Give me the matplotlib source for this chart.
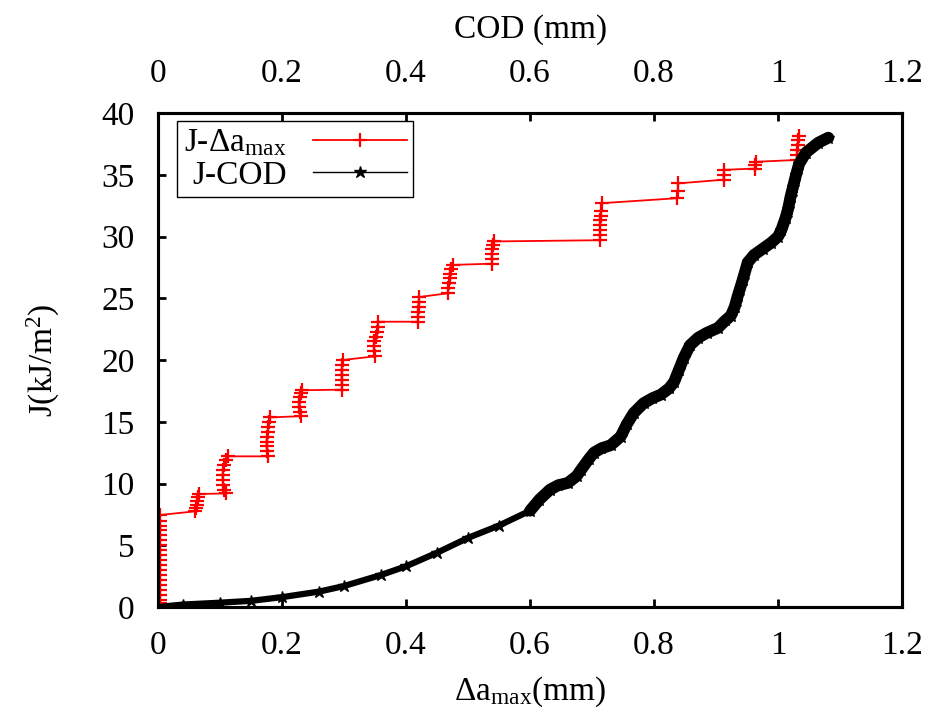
import matplotlib
matplotlib.use('Agg')
import matplotlib.pyplot as plt

plt.rcParams['font.family'] = ['Liberation Serif', 'DejaVu Serif']
plt.rcParams['mathtext.fontset'] = 'custom'
plt.rcParams['mathtext.rm'] = 'Liberation Serif'
plt.rcParams['mathtext.it'] = 'Liberation Serif:italic'

# J vs crack extension (red, staircase)
red_da = [0.003, 0.003, 0.003, 0.003, 0.003, 0.003, 0.003, 0.003, 0.003, 0.003,
          0.003, 0.003, 0.003, 0.003, 0.003, 0.003, 0.003, 0.003, 0.003, 0.003,
          0.060, 0.061, 0.062, 0.063, 0.064, 0.066,
          0.110, 0.107, 0.105, 0.104, 0.104, 0.105, 0.107, 0.110, 0.112,
          0.178, 0.176, 0.175, 0.175, 0.176, 0.177, 0.178, 0.179, 0.180,
          0.230, 0.229, 0.228, 0.228, 0.229, 0.231, 0.232,
          0.297, 0.296, 0.296, 0.296, 0.296, 0.297, 0.298,
          0.350, 0.349, 0.348, 0.349, 0.351, 0.353, 0.354, 0.355,
          0.419, 0.419, 0.419, 0.420, 0.420, 0.421,
          0.467, 0.468, 0.469, 0.470, 0.471, 0.473, 0.475,
          0.539, 0.538, 0.538, 0.539, 0.540, 0.541,
          0.713, 0.713, 0.713, 0.713, 0.713, 0.714, 0.715, 0.716,
          0.837, 0.838, 0.839,
          0.912, 0.912, 0.913,
          0.963, 0.963, 0.964,
          1.031, 1.031, 1.031, 1.032, 1.032, 1.033]
red_j = [0.0, 0.3, 0.6, 1.0, 1.4, 1.8, 2.2, 2.6, 3.0, 3.4,
         3.8, 4.2, 4.6, 5.0, 5.4, 5.8, 6.2, 6.6, 7.0, 7.45,
         7.75, 8.0, 8.3, 8.6, 8.9, 9.15,
         9.2, 9.5, 9.9, 10.3, 10.7, 11.1, 11.5, 11.9, 12.2,
         12.2, 12.6, 13.0, 13.4, 13.8, 14.2, 14.6, 15.0, 15.35,
         15.45, 15.8, 16.2, 16.6, 17.0, 17.3, 17.55,
         17.6, 18.0, 18.4, 18.8, 19.2, 19.6, 20.0,
         20.3, 20.7, 21.1, 21.5, 21.9, 22.3, 22.7, 23.1,
         23.1, 23.5, 23.9, 24.3, 24.7, 25.1,
         25.4, 25.8, 26.2, 26.6, 27.0, 27.4, 27.7,
         27.8, 28.2, 28.6, 29.0, 29.3, 29.6,
         29.7, 30.1, 30.5, 30.9, 31.3, 31.7, 32.1, 32.7,
         33.1, 33.7, 34.3,
         34.6, 35.0, 35.4,
         35.5, 35.8, 36.05,
         36.2, 36.6, 37.0, 37.4, 37.8, 38.1]

# J vs COD (black)
cod = [0.0, 0.04, 0.10, 0.15, 0.20, 0.26, 0.30, 0.36, 0.40, 0.45, 0.50, 0.55, 0.60,
       0.615, 0.632, 0.645, 0.661, 0.675, 0.682, 0.695, 0.703, 0.715, 0.730,
       0.746, 0.756, 0.767, 0.783, 0.797, 0.811, 0.824, 0.832, 0.840, 0.848,
       0.858, 0.871, 0.885, 0.903, 0.915, 0.924, 0.930, 0.935, 0.943, 0.951,
       0.961, 0.975, 0.989, 1.000, 1.005, 1.012, 1.016, 1.020, 1.024, 1.029,
       1.034, 1.045, 1.065, 1.081]
cod_j = [0.0, 0.2, 0.35, 0.5, 0.8, 1.25, 1.7, 2.6, 3.3, 4.4, 5.6, 6.6, 7.8,
         8.7, 9.5, 9.85, 10.05, 10.6, 11.1, 12.0, 12.5, 12.85, 13.1,
         13.8, 14.8, 15.7, 16.5, 16.9, 17.2, 17.7, 18.2, 19.2, 20.2,
         21.2, 21.8, 22.2, 22.6, 23.2, 23.6, 24.3, 25.2, 26.5, 27.9,
         28.5, 29.0, 29.5, 30.0, 30.5, 31.5, 32.2, 33.2, 34.0, 35.0,
         35.9, 36.8, 37.6, 38.0]

fig = plt.figure(figsize=(9.3, 7.17), dpi=100)
ax = fig.add_axes([0.170, 0.1534, 0.800, 0.6890])
ax2 = ax.twiny()

# red staircase
l1, = ax.plot(red_da, red_j, color='#ff0000', lw=1.3, marker='+',
              markersize=10, markeredgewidth=1.6, label=r'J-$\Delta$a$_{\mathrm{max}}$')

# black wavy band: thick line under the star markers
ax2.plot(cod[:13], cod_j[:13], color='black', lw=4.5, solid_capstyle='round')
ax2.plot(cod[12:], cod_j[12:], color='black', lw=8.5, solid_capstyle='round')
l2, = ax2.plot(cod, cod_j, color='black', lw=1.0, marker='*',
               markersize=9, label='J-COD')

for a in (ax, ax2):
    a.set_xlim(0, 1.2)
    a.set_xticks([0, 0.2, 0.4, 0.6, 0.8, 1.0, 1.2])
    a.set_xticklabels(['0', '0.2', '0.4', '0.6', '0.8', '1', '1.2'])
    a.tick_params(direction='in', length=6, width=2, labelsize=24, pad=17)
ax.set_ylim(0, 40)
ax.set_yticks(range(0, 41, 5))
ax.tick_params(axis='y', right=False, pad=17)
for s in ax.spines.values():
    s.set_linewidth(2.2)
for s in ax2.spines.values():
    s.set_linewidth(2.2)

ax.set_xlabel(r'$\Delta$a$_{\mathrm{max}}$(mm)', fontsize=24, labelpad=10)
ax2.set_xlabel('COD (mm)', fontsize=24, labelpad=15)
ax.set_ylabel(r'J(kJ/m$^2$)', fontsize=24, labelpad=28)

leg = ax2.legend([l1, l2], [l1.get_label(), l2.get_label()], loc='upper left',
                 bbox_to_anchor=(0.026, 0.984), borderaxespad=0, fontsize=24,
                 markerfirst=False, fancybox=False, edgecolor='black',
                 framealpha=1, handlelength=2.8, handletextpad=0.8,
                 labelspacing=0.05, borderpad=0.2)
leg.get_frame().set_linewidth(1.0)

fig.savefig('out.png', dpi=100)
